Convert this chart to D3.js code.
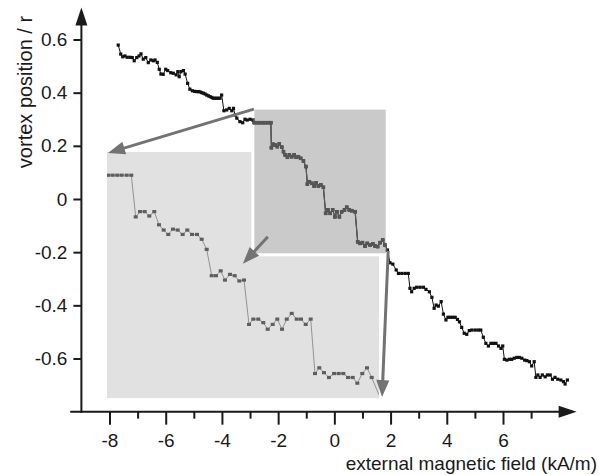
<!DOCTYPE html>
<html>
<head>
<meta charset="utf-8">
<script src="https://cdn.jsdelivr.net/npm/d3@7"></script>
<style>
  body { margin: 0; background: #fff; }
  text { font-family: "Liberation Sans", Arial, sans-serif; fill: #1a1a1a; }
</style>
</head>
<body>
<div id="plot"></div>
<script>
// measured vortex position (r) against external field (kA/m)
var mainSeries = [
  [-7.69,0.579],[-7.60,0.545],[-7.53,0.535],[-7.45,0.538],[-7.37,0.533],[-7.27,0.533],[-7.19,0.532],
  [-7.12,0.520],[-7.03,0.532],[-6.95,0.538],[-6.88,0.546],[-6.80,0.526],[-6.71,0.532],[-6.62,0.513],
  [-6.53,0.523],[-6.44,0.520],[-6.38,0.523],[-6.30,0.514],[-6.23,0.488],[-6.17,0.470],[-6.09,0.469],
  [-6.00,0.488],[-5.93,0.483],[-5.82,0.475],[-5.73,0.473],[-5.63,0.467],[-5.57,0.479],[-5.52,0.460],
  [-5.46,0.479],[-5.37,0.483],[-5.31,0.470],[-5.22,0.435],[-5.14,0.413],[-5.05,0.407],[-4.97,0.405],
  [-4.90,0.404],[-4.84,0.404],[-4.78,0.403],[-4.72,0.400],[-4.66,0.398],[-4.60,0.395],[-4.54,0.391],
  [-4.48,0.388],[-4.42,0.385],[-4.36,0.382],[-4.31,0.379],[-4.25,0.379],[-4.19,0.379],[-4.13,0.379],
  [-4.07,0.379],[-4.01,0.391],[-3.93,0.332],[-3.83,0.335],[-3.74,0.341],[-3.65,0.332],[-3.59,0.341],
  [-3.53,0.316],[-3.47,0.304],[-3.36,0.291],[-3.26,0.287],[-3.18,0.300],[-3.10,0.297],[-3.00,0.300],
  [-2.90,0.297],[-2.86,0.287],[-2.76,0.287],[-2.66,0.287],[-2.56,0.287],[-2.46,0.287],[-2.36,0.287],
  [-2.26,0.287],[-2.24,0.193],[-2.19,0.206],[-2.11,0.203],[-2.03,0.197],[-1.96,0.207],[-1.87,0.195],
  [-1.81,0.178],[-1.75,0.166],[-1.67,0.157],[-1.60,0.166],[-1.52,0.159],[-1.43,0.166],[-1.36,0.157],
  [-1.28,0.159],[-1.20,0.153],[-1.10,0.143],[-1.01,0.122],[-0.96,0.056],[-0.89,0.065],[-0.80,0.059],
  [-0.72,0.049],[-0.65,0.061],[-0.57,0.049],[-0.48,0.053],[-0.39,0.044],[-0.31,-0.054],[-0.23,-0.041],
  [-0.15,-0.054],[-0.06,-0.041],[0.02,-0.067],[0.09,-0.048],[0.18,-0.067],[0.26,-0.048],[0.36,-0.041],
  [0.44,-0.031],[0.53,-0.041],[0.62,-0.044],[0.74,-0.048],[0.83,-0.161],[0.91,-0.167],[1.00,-0.164],
  [1.09,-0.177],[1.17,-0.167],[1.27,-0.173],[1.37,-0.169],[1.45,-0.177],[1.54,-0.179],[1.63,-0.164],
  [1.72,-0.154],[1.80,-0.173],[1.89,-0.192],[1.98,-0.240],[2.08,-0.245],[2.20,-0.267],[2.28,-0.280],
  [2.40,-0.280],[2.52,-0.280],[2.63,-0.280],[2.69,-0.336],[2.75,-0.349],[2.84,-0.336],[2.93,-0.332],
  [3.05,-0.332],[3.17,-0.332],[3.26,-0.340],[3.38,-0.349],[3.47,-0.370],[3.55,-0.411],[3.62,-0.399],
  [3.70,-0.403],[3.80,-0.386],[3.88,-0.433],[3.97,-0.455],[4.04,-0.445],[4.12,-0.445],[4.21,-0.445],
  [4.30,-0.445],[4.38,-0.453],[4.45,-0.462],[4.53,-0.483],[4.62,-0.505],[4.71,-0.509],[4.80,-0.495],
  [4.89,-0.493],[5.01,-0.493],[5.12,-0.493],[5.21,-0.493],[5.30,-0.520],[5.39,-0.543],[5.48,-0.553],
  [5.57,-0.543],[5.66,-0.543],[5.75,-0.543],[5.84,-0.553],[5.93,-0.562],[5.99,-0.553],[6.05,-0.603],
  [6.14,-0.606],[6.23,-0.603],[6.31,-0.603],[6.40,-0.599],[6.49,-0.596],[6.58,-0.596],[6.67,-0.599],
  [6.77,-0.606],[6.85,-0.608],[6.94,-0.612],[7.02,-0.628],[7.11,-0.612],[7.17,-0.671],[7.24,-0.662],
  [7.32,-0.671],[7.40,-0.662],[7.50,-0.669],[7.58,-0.662],[7.68,-0.662],[7.76,-0.678],[7.85,-0.671],
  [7.95,-0.678],[8.06,-0.681],[8.15,-0.687],[8.21,-0.696],[8.29,-0.681]
];

// magnified part shown in the inset
var insetSeries = [
  [-2.658,0.285],[-2.583,0.285],[-2.505,0.285],[-2.430,0.285],[-2.345,0.285],[-2.266,0.285],
  [-2.191,0.190],[-2.118,0.202],[-2.038,0.202],[-1.960,0.192],[-1.875,0.202],[-1.795,0.172],
  [-1.715,0.160],[-1.637,0.150],[-1.557,0.162],[-1.477,0.160],[-1.392,0.150],[-1.313,0.160],
  [-1.233,0.150],[-1.148,0.150],[-1.068,0.139],[-0.983,0.116],[-0.898,0.056],[-0.825,0.056],
  [-0.745,0.067],[-0.672,0.046],[-0.587,0.059],[-0.507,0.056],[-0.428,0.044],[-0.348,0.046],
  [-0.263,-0.055],[-0.190,-0.043],[-0.105,-0.043],[-0.020,-0.051],[0.055,-0.066],[0.140,-0.055],
  [0.218,-0.043],[0.299,-0.066],[0.379,-0.043],[0.464,-0.030],[0.549,-0.043],[0.622,-0.043],
  [0.702,-0.055],[0.787,-0.043],[0.860,-0.167],[0.933,-0.154],[1.013,-0.165],[1.098,-0.176],
  [1.184,-0.167],[1.263,-0.167],[1.342,-0.167],[1.422,-0.176],[1.502,-0.176],[1.580,-0.189],
  [1.665,-0.167],[1.745,-0.154],[1.825,-0.176],[1.950,-0.216]
];

var xTicks = [-8, -6, -4, -2, 0, 2, 4, 6];
var xMinor = [-7, -5, -3, -1, 1, 3, 5, 7];
var yTicks = [-0.6, -0.4, -0.2, 0, 0.2, 0.4, 0.6];

// selected region (dark box) and where its magnification is placed (light box)
var zoomField = [-2.9, 1.88], zoomPos = [-0.21, 0.342];
var insetField = [-2.68, 1.95], insetPos = [-0.223, 0.338];
var insetBoxField = [-8.09, 1.59], insetBoxPos = [-0.749, 0.177];

var W = 599, H = 475;
var svg = d3.select("#plot").append("svg").attr("width", W).attr("height", H);

var x = d3.scaleLinear().domain([-8, 6]).range([109.5, 503]);
var y = d3.scaleLinear().domain([-0.6, 0.6]).range([358.5, 39.5]);

var xi = d3.scaleLinear().domain(insetField).range([x(insetBoxField[0]), x(insetBoxField[1])]);
var yi = d3.scaleLinear().domain(insetPos).range([y(insetBoxPos[0]), y(insetBoxPos[1])]);

var x0 = x(-9), y0 = y(-0.8);
var arrowCol = "#737373";

// boxes
var ib = { x1: x(insetBoxField[0]), x2: x(insetBoxField[1]), y1: y(insetBoxPos[1]), y2: y(insetBoxPos[0]) };
var zb = { x1: x(zoomField[0]), x2: x(zoomField[1]), y1: y(zoomPos[1]), y2: y(zoomPos[0]) };

svg.append("rect")
  .attr("x", ib.x1).attr("y", ib.y1)
  .attr("width", ib.x2 - ib.x1).attr("height", ib.y2 - ib.y1)
  .attr("fill", "#e1e1e1");

svg.append("rect")
  .attr("x", zb.x1).attr("y", zb.y1)
  .attr("width", zb.x2 - zb.x1).attr("height", zb.y2 - zb.y1)
  .attr("fill", "#cacaca")
  .attr("stroke", "#fff").attr("stroke-width", 3);

// clip paths
var defs = svg.append("defs");
defs.append("clipPath").attr("id", "clipZoom").append("rect")
  .attr("x", zb.x1).attr("y", zb.y1).attr("width", zb.x2 - zb.x1).attr("height", zb.y2 - zb.y1);
defs.append("clipPath").attr("id", "clipInset").append("rect")
  .attr("x", ib.x1).attr("y", ib.y1).attr("width", ib.x2 - ib.x1).attr("height", ib.y2 - ib.y1);

// axes
var xAxis = svg.append("g")
  .attr("transform", "translate(0," + y0 + ")")
  .call(d3.axisBottom(x).tickValues(xTicks).tickSize(13).tickPadding(9)
    .tickFormat(function(d) { return String(d); }));
var xAxisMinor = svg.append("g")
  .attr("transform", "translate(0," + y0 + ")")
  .call(d3.axisBottom(x).tickValues(xMinor).tickSize(7).tickFormat(""));
var yAxis = svg.append("g")
  .attr("transform", "translate(" + x0 + ",0)")
  .call(d3.axisLeft(y).tickValues(yTicks).tickSize(8).tickPadding(6)
    .tickFormat(function(d) { return String(d); }));

[xAxis, xAxisMinor, yAxis].forEach(function(g) {
  g.select(".domain").remove();
  g.selectAll(".tick line").attr("stroke", "#1a1a1a").attr("stroke-width", 2);
  g.selectAll(".tick text").attr("font-size", 19).attr("fill", "#1a1a1a")
    .style("font-family", "'Liberation Sans', Arial, sans-serif");
});

// axis lines with arrow heads
var xEnd = x(8.62), yEnd = y(0.72);
svg.append("line").attr("x1", x(-9.4)).attr("x2", xEnd - 14).attr("y1", y0).attr("y2", y0)
  .attr("stroke", "#1a1a1a").attr("stroke-width", 2);
svg.append("path")
  .attr("d", "M" + xEnd + "," + y0 + "L" + (xEnd - 18) + "," + (y0 - 6) + "L" + (xEnd - 18) + "," + (y0 + 6) + "Z")
  .attr("fill", "#1a1a1a");
svg.append("line").attr("x1", x0).attr("x2", x0).attr("y1", y0 + 1).attr("y2", yEnd + 14)
  .attr("stroke", "#1a1a1a").attr("stroke-width", 2);
svg.append("path")
  .attr("d", "M" + x0 + "," + yEnd + "L" + (x0 - 6) + "," + (yEnd + 18) + "L" + (x0 + 6) + "," + (yEnd + 18) + "Z")
  .attr("fill", "#1a1a1a");

// axis titles
svg.append("text")
  .attr("x", W - 2).attr("y", 470)
  .attr("text-anchor", "end").attr("font-size", 19)
  .text("external magnetic field (kA/m)");
svg.append("text")
  .attr("transform", "translate(32," + 92 + ") rotate(-90)")
  .attr("text-anchor", "middle").attr("font-size", 20)
  .text("vortex position / r");

// arrows between the boxes
function arrow(ax, ay, bx, by) {
  var dx = bx - ax, dy = by - ay, len = Math.sqrt(dx * dx + dy * dy);
  var ux = dx / len, uy = dy / len, hl = 17, hw = 6.5;
  var bxl = bx - ux * hl, byl = by - uy * hl;
  svg.append("line").attr("x1", ax).attr("y1", ay).attr("x2", bxl + ux * 2).attr("y2", byl + uy * 2)
    .attr("stroke", arrowCol).attr("stroke-width", 3);
  svg.append("path")
    .attr("d", "M" + bx + "," + by +
      "L" + (bxl - uy * hw) + "," + (byl + ux * hw) +
      "L" + (bxl + uy * hw) + "," + (byl - ux * hw) + "Z")
    .attr("fill", arrowCol);
}

// main curve
var line = d3.line().x(function(d) { return x(d[0]); }).y(function(d) { return y(d[1]); });
svg.append("path").datum(mainSeries)
  .attr("d", line).attr("fill", "none").attr("stroke", "#111").attr("stroke-width", 1);
svg.append("g").selectAll("rect").data(mainSeries).enter().append("rect")
  .attr("x", function(d) { return x(d[0]) - 1.6; })
  .attr("y", function(d) { return y(d[1]) - 1.6; })
  .attr("width", 3.2).attr("height", 3.2).attr("fill", "#111");

// same curve inside the selected region in grey
var zg = svg.append("g").attr("clip-path", "url(#clipZoom)");
zg.append("path").datum(mainSeries)
  .attr("d", line).attr("fill", "none").attr("stroke", "#5a5a5a").attr("stroke-width", 1.3);
zg.selectAll("rect").data(mainSeries).enter().append("rect")
  .attr("x", function(d) { return x(d[0]) - 1.8; })
  .attr("y", function(d) { return y(d[1]) - 1.8; })
  .attr("width", 3.6).attr("height", 3.6).attr("fill", "#555");

// inset curve
var lineInset = d3.line().x(function(d) { return xi(d[0]); }).y(function(d) { return yi(d[1]); });
var ig = svg.append("g").attr("clip-path", "url(#clipInset)");
ig.append("path").datum(insetSeries)
  .attr("d", lineInset).attr("fill", "none").attr("stroke", "#8a8a8a").attr("stroke-width", 0.9);
ig.selectAll("rect").data(insetSeries.slice(0, -1)).enter().append("rect")
  .attr("x", function(d) { return xi(d[0]) - 2; })
  .attr("y", function(d) { return yi(d[1]) - 1.6; })
  .attr("width", 4).attr("height", 3.2).attr("fill", "#5e5e5e");

arrow(zb.x1 + 1, zb.y1 + 1, ib.x1 + 1, ib.y1 + 1);
arrow(zb.x1 + 15, zb.y2 - 18, zb.x1 - 10, zb.y2 + 9);
arrow(zb.x2 + 1, zb.y2 - 4, ib.x2 + 3, ib.y2 - 1);
</script>
</body>
</html>
